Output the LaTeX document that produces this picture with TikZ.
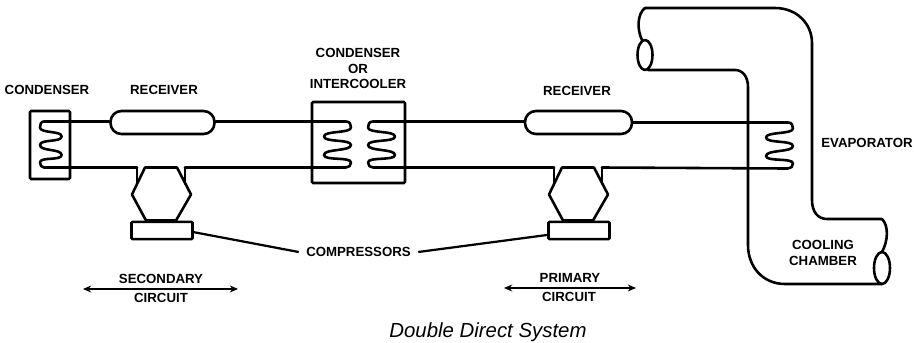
\documentclass[tikz,border=0pt]{standalone}
\usepackage{fontspec}
\setmainfont{Liberation Sans}
\usetikzlibrary{arrows.meta,positioning}
\tikzset{
  pipe/.style={line width=2.2pt,line join=round,line cap=round},
  partbox/.style={draw,line width=2.2pt,rectangle,inner sep=0pt},
  receiver/.style={partbox,rounded corners=0.33cm,minimum width=3.12cm,minimum height=0.69cm},
  txtlabel/.style={font=\bfseries\fontsize{11.3}{13.2}\selectfont,align=center,inner sep=0pt},
  leader/.style={line width=1.9pt},
  span/.style={line width=1.2pt,{Stealth[length=7pt,width=6pt]}-{Stealth[length=7pt,width=6pt]}},
  coil/.pic={
    \draw[pipe] (9,0)--(5,0) .. controls (1,0) and (0,3) .. (0,6)
      .. controls (0,12) and (27,9) .. (27,15)
      .. controls (27,21) and (0,17.5) .. (0,23.5)
      .. controls (0,30) and (27,27) .. (27,33.5)
      .. controls (27,39.5) and (0,35) .. (0,41)
      .. controls (0,44) and (2,46) .. (5,46)--(9,46);
    \coordinate (-top) at (9,0); \coordinate (-bot) at (9,46);
  },
  compressor/.pic={
    \draw[pipe] (13,0)--(45,0)--(59,27)--(44,53)--(14,53)--(0,27)--cycle;
    \draw[pipe] (5,0)--(5,16); \draw[pipe] (53,0)--(53,16);
    \node[partbox,rounded corners=1pt,minimum width=1.83cm,minimum height=0.52cm] (-base) at (30,63) {};
    \coordinate (-in) at (5,0); \coordinate (-out) at (53,0);
  }
}

\begin{document}
\begin{tikzpicture}[x=0.03cm,y=-0.03cm]
  \useasboundingbox (0,0) rectangle (914,343);
  % boxes and receivers
  \node[partbox,rounded corners=1pt,minimum width=1.2cm,minimum height=2.04cm] (cond) at (50,145) {};
  \node[partbox,rounded corners=1pt,minimum width=2.79cm,minimum height=2.43cm] (inter) at (358.5,142.5) {};
  \node[receiver] (rcva) at (162.5,122.5) {};
  \node[receiver,minimum width=3.21cm] (rcvb) at (578.5,122.5) {};
  % coils
  \pic[xscale=0.8] (cc) at (40,121.5) {coil};
  \pic[xscale=-1] (cl) at (351,121.5) {coil};
  \pic (cr) at (368,121.5) {coil};
  \pic[xscale=-1] (ev) at (793,122.5) {coil};
  % compressors
  \pic (cpa) at (132,167.5) {compressor};
  \pic (cpb) at (549,167.5) {compressor};
  % pipes
  \draw[pipe] (cc-top)--(rcva.west |- cc-top);
  \draw[pipe] (rcva.east |- cl-top)--(cl-top);
  \draw[pipe] (cr-top)--(rcvb.west |- cr-top);
  \draw[pipe] (rcvb.east |- ev-top)--(ev-top);
  \draw[pipe] (cc-bot)--(cpa-in);
  \draw[pipe] (cpa-out)--(cl-bot);
  \draw[pipe] (cr-bot)--(cpb-in);
  \draw[pipe] (cpb-out)--(ev-bot);
  % duct
  \draw[pipe] (645,8)--(775,8) .. controls (797,8) and (812,24) .. (812,43)
    --(812,200) .. controls (812,212) and (818,219) .. (827,219)
    --(882,219) .. controls (889,226) and (888,241) .. (882,252);
  \draw[pipe] (882,284)--(785,284) .. controls (763,284) and (748,267) .. (748,245)
    --(748,87) .. controls (748,77) and (743,70) .. (735,70)--(648,70);
  \draw[pipe] (645,8) .. controls (637,14) and (637,30) .. (642,40);
  \draw[pipe] (645,55) ellipse [x radius=7.5,y radius=15];
  \draw[pipe] (882,268) ellipse [x radius=8,y radius=16];
  % labels
  \node[txtlabel] (lcond) at (47,90) {CONDENSER};
  \node[txtlabel] (lrcva) at (164,90) {RECEIVER};
  \node[txtlabel] (linter) at (358,68.5) {CONDENSER\\OR\\INTERCOOLER};
  \node[txtlabel] (lrcvb) at (577,91) {RECEIVER};
  \node[txtlabel] (levap) at (867,143) {EVAPORATOR};
  \node[txtlabel] (lcool) at (823,253) {COOLING\\CHAMBER};
  \node[txtlabel,inner sep=0.22cm] (lcomp) at (358.5,252) {COMPRESSORS};
  \draw[leader] (cpa-base.-3)--(lcomp.west);
  \draw[leader] (lcomp.east)--(cpb-base.188);
  % circuits
  \coordinate (seca) at (83,289); \coordinate (secb) at (238,289);
  \coordinate (pria) at (504,288); \coordinate (prib) at (636,288);
  \draw[span] (seca)--(secb);
  \draw[span] (pria)--(prib);
  \node[txtlabel] (lsec) at (161,279) {SECONDARY};
  \node[txtlabel] (lsecb) at (161,298) {CIRCUIT};
  \node[txtlabel] (lpri) at (570,278) {PRIMARY};
  \node[txtlabel] (lprib) at (569,297) {CIRCUIT};
  \node[font=\itshape\fontsize{17.4}{20}\selectfont,inner sep=0pt,anchor=base] (title) at (488,338) {Double Direct System};
\end{tikzpicture}
\end{document}
